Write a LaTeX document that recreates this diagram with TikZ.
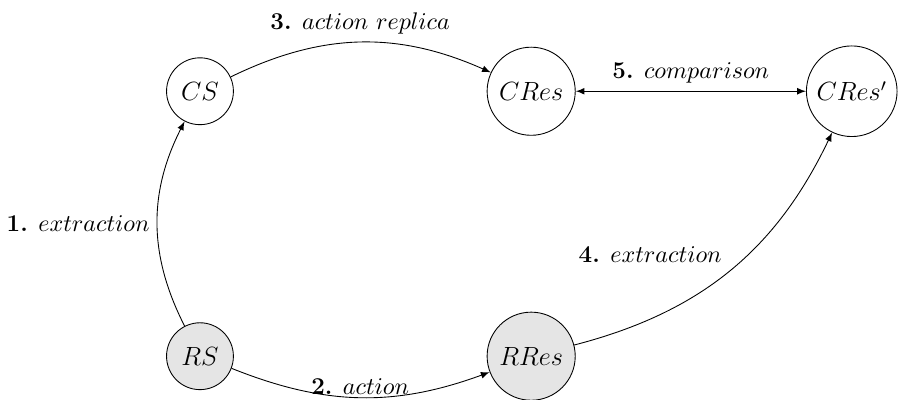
\documentclass[tikz,border=0pt]{standalone}
\usetikzlibrary{arrows}
\tikzset{
	state/.style={draw, circle, thin, inner sep=0pt, minimum size=#1, font=\fontsize{12}{14}\selectfont},
	real/.style={state=#1, fill=gray!20},
	flow/.style={-latex, thin},
	lbl/.style={font=\fontsize{11}{13}\selectfont},
}
\begin{document}
\begin{tikzpicture}
		\useasboundingbox (0,0) rectangle (14.37,6.4);
		\node[state=1.07cm] (cs) at (3.2,4.94) {$CS$};
		\node[state=1.41cm] (cres) at (8.5,4.94) {$CRes$};
		\node[state=1.45cm] (cresp) at (13.63,4.94) {$CRes'$};
		\node[real=1.07cm] (rs) at (3.2,0.7) {$RS$};
		\node[real=1.41cm] (rres) at (8.5,0.7) {$RRes$};
		\draw[flow] (rs) to[bend left=27] node[lbl, anchor=east] {\textbf{1.} $extraction$} (cs);
		\draw[flow] (rs) to[bend right=21] node[lbl, anchor=south, inner sep=1pt] {\textbf{2.} $action$} (rres);
		\draw[flow] (cs) to[bend left=25] node[lbl, anchor=south] {\textbf{3.} $action$ $replica$} (cres);
		\draw[flow] (rres) to[bend right=25] node[lbl, anchor=south east] {\textbf{4.} $extraction$} (cresp);
		\draw[latex-latex, thin] (cres) -- node[lbl, anchor=south] {\textbf{5.} $comparison$} (cresp);
		\end{tikzpicture}
\end{document}
